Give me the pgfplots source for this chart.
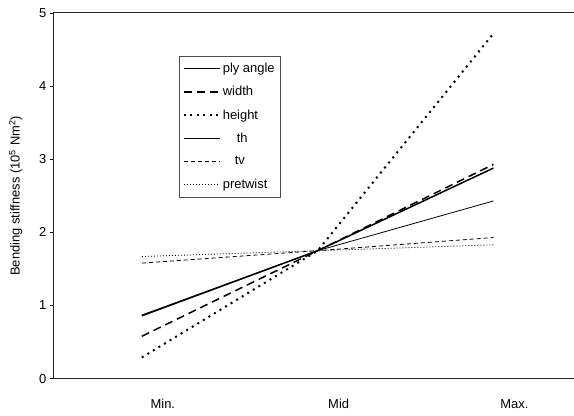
\documentclass[border=0pt]{standalone}
\usepackage{pgfplots}
\pgfplotsset{compat=1.18}
\usepackage{fontspec}
\setmainfont{Liberation Sans}
\begin{document}
\begin{tikzpicture}
\begin{axis}[
  scale only axis,
  width=520bp, height=366bp,
  xmin=-0.5, xmax=2.455,
  ymin=0, ymax=5,
  xtick={0,1,2},
  xticklabels={Min.,Mid,Max.},
  xticklabel style={xshift=21bp, yshift=-13bp},
  x tick style={draw=none},
  ytick={0,1,2,3,4,5},
  ytick pos=left,
  tick align=outside,
  y tick style={black, line width=0.6pt},
  major tick length=4bp,
  /pgf/number format/assume math mode=true,
  tick label style={font=\fontsize{13}{15}\selectfont},
  ylabel={Bending stiffness (10\textsuperscript{5} Nm\textsuperscript{2})},
  ylabel style={font=\fontsize{13}{15}\selectfont, yshift=10bp},
  axis line style={draw=none},
  legend style={at={(0.24,0.8825)}, anchor=north west, draw=black!70, line width=0.5pt,
    font=\fontsize{13}{15}\selectfont, row sep=8.5bp, inner xsep=4bp, inner ysep=5bp},
  legend cell align=left,
  legend image code/.code={\draw[#1] (0bp,0bp) -- (36bp,0bp);},
  clip=false,
]
\draw[black!85, line width=1pt] (rel axis cs:1,1) -- (rel axis cs:0,1) -- (rel axis cs:0,0) -- (rel axis cs:1,0);
\addplot[black, line width=1.5pt] coordinates {(0,0.86) (1,1.75) (2,2.88)};
\addlegendentry{ply angle}
\addplot[black, line width=1.5pt, dash pattern=on 8bp off 5bp] coordinates {(0,0.58) (1,1.75) (2,2.93)};
\addlegendentry{width}
\addplot[black, line width=2pt, dash pattern=on 2bp off 4.5bp] coordinates {(0,0.29) (1,1.75) (2,4.72)};
\addlegendentry{height}
\addplot[black, line width=0.8pt] coordinates {(0,0.87) (1,1.75) (2,2.43)};
\addlegendentry{\hspace{14bp}th}
\addplot[black, line width=0.8pt, dash pattern=on 4bp off 3bp] coordinates {(0,1.58) (1,1.75) (2,1.93)};
\addlegendentry{\hspace{12bp}tv}
\addplot[black, line width=0.8pt, dash pattern=on 1bp off 2bp] coordinates {(0,1.67) (1,1.75) (2,1.83)};
\addlegendentry{pretwist}
\end{axis}
\path ([shift={(-54bp,-37bp)}]current axis.south west) rectangle ([yshift=13bp]current axis.north east);
\end{tikzpicture}
\end{document}
